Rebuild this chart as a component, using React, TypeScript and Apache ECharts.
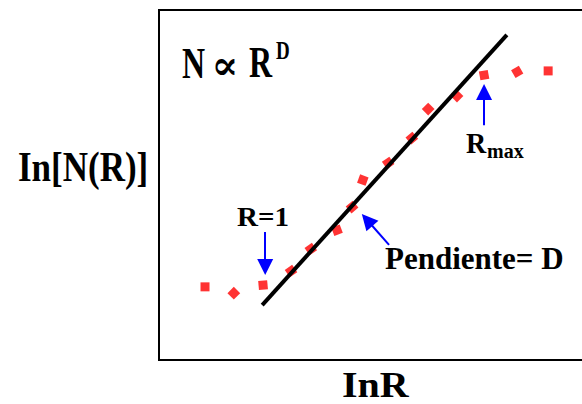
import { useEffect, useRef } from "react";
import * as echarts from "echarts";

// ln R and ln N(R) of the measured points
const lnR = [1.07, 1.74, 2.42, 3.07, 3.53, 4.14, 4.49, 4.74, 5.33, 5.88, 6.26, 6.93, 7.56, 8.33, 9.05];
const lnN = [2.09, 1.91, 2.14, 2.54, 3.17, 3.71, 4.37, 5.14, 5.63, 6.34, 7.17, 7.54, 8.14, 8.23, 8.26];

// straight-line fit across the scaling range
const fitR = [2.4, 8.09];
const fitN = [1.57, 9.29];

// annotation arrows: [from, to] in (ln R, ln N) units
const arrowR1 = [[2.47, 3.66], [2.47, 2.66]];
const arrowRmax = [[7.56, 6.71], [7.56, 7.66]];
const arrowSlope = [[5.35, 3.29], [4.84, 4.0]];

// marker tilt for each point, degrees
const markerTilt = [0, 45, 5, 35, 35, 20, 40, -20, 35, 40, 45, 45, 10, 30, 0];

const SERIF = "Liberation Serif, Times New Roman, serif";

function txt(
  text: string,
  x: number,
  y: number,
  fontSize: number,
  scaleY = 1,
  align: "left" | "center" = "left",
  family = SERIF
) {
  return {
    type: "text",
    x,
    y,
    scaleY,
    style: {
      text,
      x: 0,
      y: 0,
      fontFamily: family,
      fontWeight: "bold",
      fontSize,
      fill: "#000",
      align,
      verticalAlign: "middle",
    },
    silent: true,
  };
}

export default function App() {
  const ref = useRef<HTMLDivElement>(null);

  useEffect(() => {
    if (!ref.current) return;
    const chart = echarts.init(ref.current, undefined, { renderer: "svg" });

    const arrowLine = (a: number[][]) => [{ coord: a[0] }, { coord: a[1] }];

    chart.setOption({
      animation: false,
      backgroundColor: "#fff",
      grid: {
        left: 159,
        top: 10,
        bottom: 44,
        right: 11,
        show: true,
        borderColor: "#000",
        borderWidth: 2,
        backgroundColor: "transparent",
      },
      xAxis: { type: "value", min: 0, max: 10, show: false },
      yAxis: { type: "value", min: 0, max: 10, show: false },
      series: [
        {
          type: "scatter",
          data: lnR.map((r, i) => ({ value: [r, lnN[i]], symbolRotate: markerTilt[i] })),
          symbol: "rect",
          symbolSize: 9,
          itemStyle: { color: "#ff0000" },
          z: 2,
          silent: true,
        },
        {
          type: "line",
          data: fitR.map((r, i) => [r, fitN[i]]),
          symbol: "none",
          lineStyle: { color: "#000", width: 4 },
          z: 3,
          silent: true,
        },
        {
          type: "line",
          data: [],
          z: 4,
          markLine: {
            silent: true,
            symbol: ["none", "triangle"],
            symbolSize: [16, 16],
            label: { show: false },
            lineStyle: { color: "#0000ff", width: 2, type: "solid" },
            data: [arrowLine(arrowR1), arrowLine(arrowRmax), arrowLine(arrowSlope)],
          },
        },
      ],
      graphic: [
        txt("In[N(R)]", 18, 166.5, 35, 1.18),
        txt("InR", 342, 385, 40, 0.92),
        txt("N", 182, 62.5, 32, 1.4),
        txt("\u221D", 225, 64, 40, 1, "center", "DejaVu Serif, serif"),
        txt("R", 249, 62.5, 32, 1.38),
        txt("D", 276, 50.5, 19, 1.35),
        txt("R=1", 237, 217, 29, 0.95),
        txt("Pendiente= D", 385, 258, 31, 1),
        txt("R", 466, 143, 28, 1.08),
        txt("max", 487, 151, 20, 1),
      ],
    });

    return () => chart.dispose();
  }, []);

  return (
    <div style={{ position: "fixed", left: 0, top: 0, width: 582, height: 404, overflow: "hidden", background: "#fff" }}>
      <div ref={ref} style={{ width: 600, height: 404 }} />
    </div>
  );
}
